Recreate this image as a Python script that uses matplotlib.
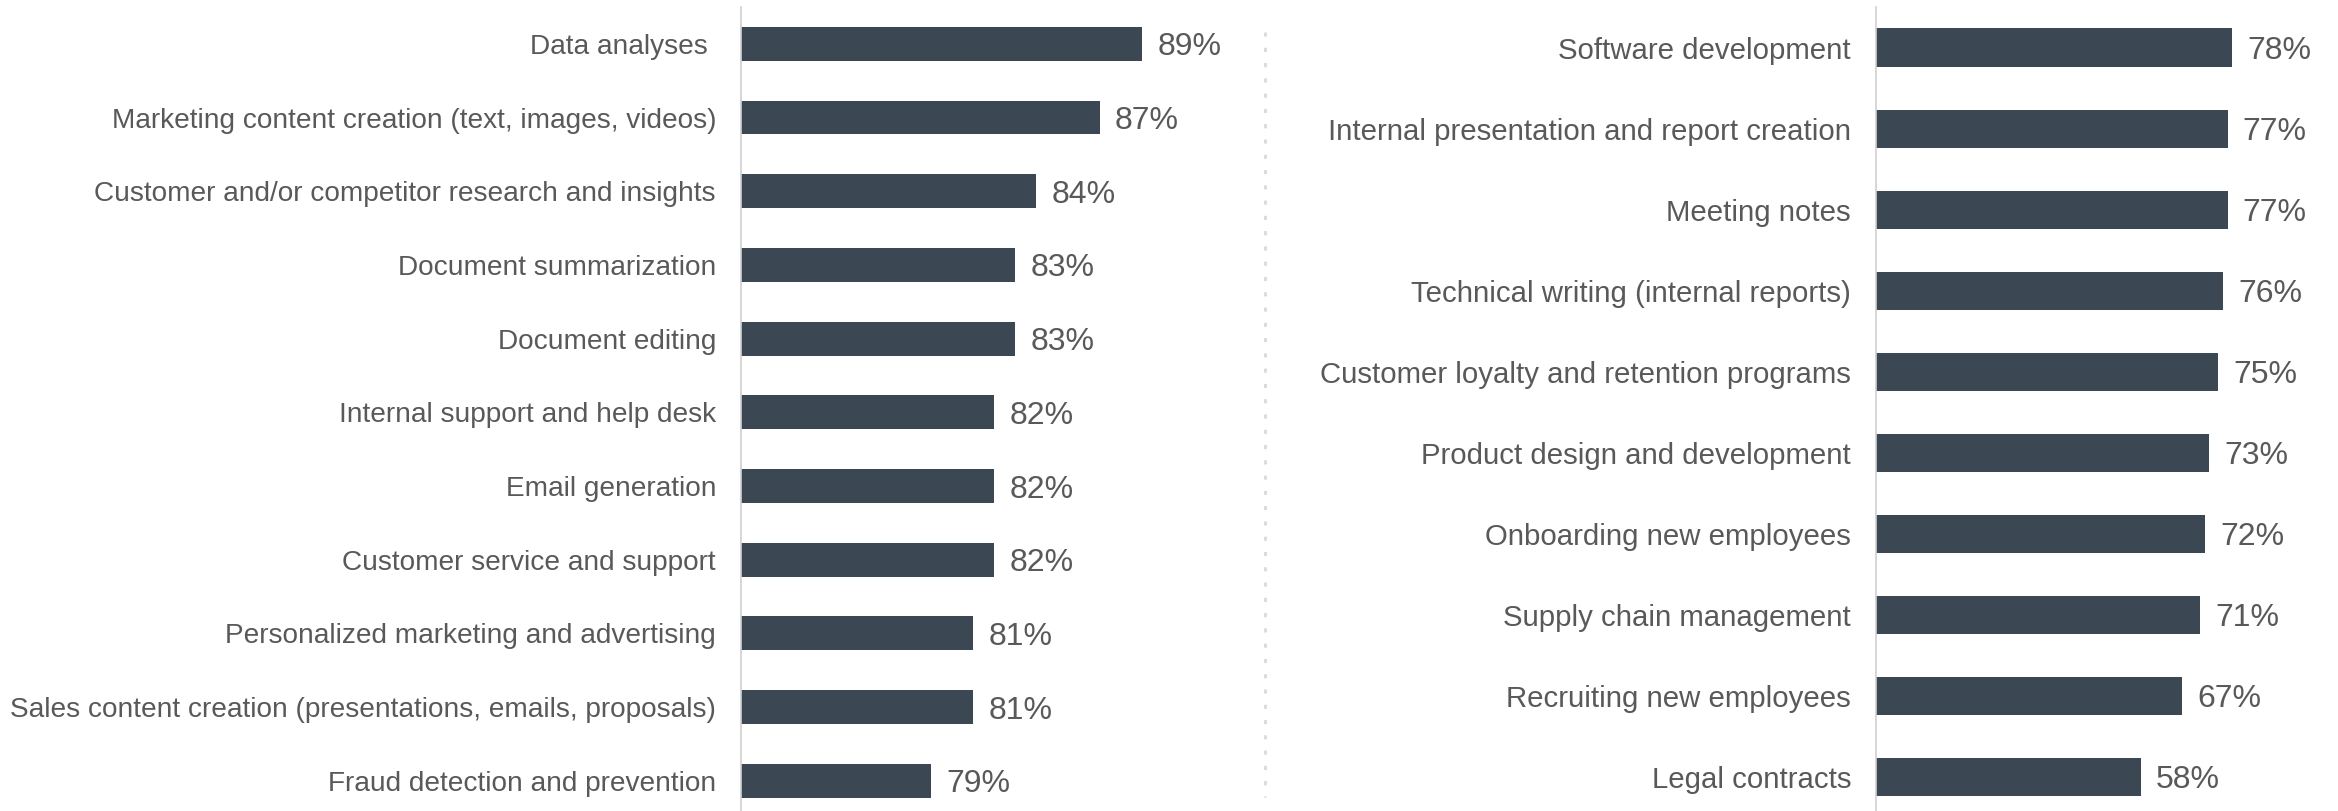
import matplotlib.pyplot as plt
from matplotlib.lines import Line2D

plt.rcParams['font.family'] = ['Liberation Sans', 'DejaVu Sans']

# left panel
left_labels = ["Data analyses ",
               "Marketing content creation (text, images, videos)",
               "Customer and/or competitor research and insights",
               "Document summarization",
               "Document editing",
               "Internal support and help desk",
               "Email generation",
               "Customer service and support",
               "Personalized marketing and advertising",
               "Sales content creation (presentations, emails, proposals)",
               "Fraud detection and prevention"]
left_values = [89, 87, 84, 83, 83, 82, 82, 82, 81, 81, 79]

# right panel
right_labels = ["Software development",
                "Internal presentation and report creation",
                "Meeting notes",
                "Technical writing (internal reports)",
                "Customer loyalty and retention programs",
                "Product design and development",
                "Onboarding new employees",
                "Supply chain management",
                "Recruiting new employees",
                "Legal contracts"]
right_values = [78, 77, 77, 76, 75, 73, 72, 71, 67, 58]

bar_color = '#3b4853'
text_color = '#595959'
W, H = 2338, 811

fig = plt.figure(figsize=(W / 100, H / 100), dpi=100)


def panel(rect, labels, values, xlim, ylim, height, pad, label_size):
    ax = fig.add_axes(rect)
    pos = list(range(len(labels)))
    ax.barh(pos, [v - xlim[0] for v in values], left=xlim[0], height=height,
            color=bar_color)
    for p, v in zip(pos, values):
        ax.annotate(f"{v}%", (v, p), xytext=(11, 0), textcoords='offset points',
                    ha='left', va='center_baseline', fontsize=23,
                    color=text_color)
    ax.set_yticks(pos)
    ax.set_yticklabels(labels, fontsize=label_size, color=text_color,
                       va='center_baseline')
    ax.tick_params(axis='y', length=0, pad=pad)
    ax.set_xticks([])
    ax.set_xlim(*xlim)
    ax.set_ylim(*ylim)
    for s in ['top', 'right', 'bottom']:
        ax.spines[s].set_visible(False)
    ax.spines['left'].set_color('#d0d0d0')
    ax.spines['left'].set_linewidth(1.2)
    return ax


# axes positions in pixels -> figure fractions
panel([741 / W, 0, (1264 - 741) / W, 804 / H], left_labels, left_values,
      (70, 70 + 523 / 21.1), (10.41, -0.5), 0.46, 18, 20.2)
panel([1876 / W, 0, (W - 1876) / W, 804 / H], right_labels, right_values,
      (0, 101.2), (9.42, -0.5), 0.47, 18, 21.2)

# dotted divider between the panels
fig.add_artist(Line2D([1265 / W, 1265 / W], [1 - 32 / H, 1 - 797 / H],
                      transform=fig.transFigure, color='#d9d9d9',
                      linestyle=(0, (1.5, 4)), linewidth=2))

fig.savefig('out.png', dpi=100)
